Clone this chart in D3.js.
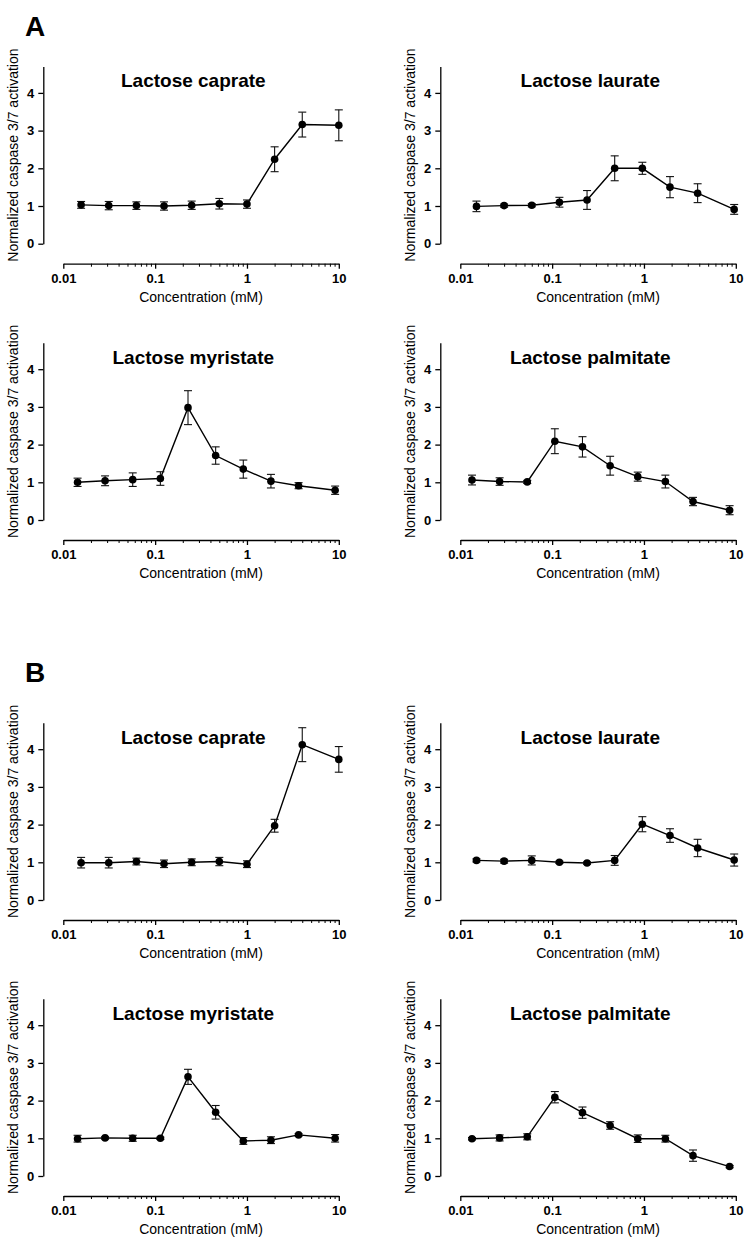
<!DOCTYPE html>
<html>
<head>
<meta charset="utf-8">
<script src="https://cdn.jsdelivr.net/npm/d3@7"></script>
<style>
  html, body { margin: 0; padding: 0; background: #fff; }
  svg { display: block; font-family: Arial, "Liberation Sans", sans-serif; }
</style>
</head>
<body>
<svg id="chart" width="752" height="1245"></svg>
<script>
// ---------- data ----------
const panelLetters = ["A", "B"];
const compounds = ["Lactose caprate", "Lactose laurate", "Lactose myristate", "Lactose palmitate"];

const concCaprate   = [0.015625, 0.03125, 0.0625, 0.125, 0.25, 0.5, 1, 2, 4, 10];
const concLaurate   = [0.015, 0.03, 0.06, 0.12, 0.24, 0.48, 0.96, 1.92, 3.84, 9.6];
const concMyristate = [0.0143, 0.0285, 0.057, 0.114, 0.228, 0.456, 0.912, 1.824, 3.648, 9.12];
const concPalmitate = [0.0134, 0.0268, 0.0536, 0.107, 0.214, 0.428, 0.856, 1.71, 3.42, 8.56];

const aCaprateMean   = [1.03, 1.01, 1.01, 1.00, 1.02, 1.06, 1.05, 2.24, 3.16, 3.14];
const aCaprateErr    = [0.09, 0.11, 0.10, 0.11, 0.11, 0.14, 0.11, 0.33, 0.33, 0.41];
const aLaurateMean   = [0.99, 1.01, 1.02, 1.10, 1.16, 2.00, 2.00, 1.50, 1.34, 0.91];
const aLaurateErr    = [0.14, 0.04, 0.04, 0.13, 0.25, 0.33, 0.16, 0.28, 0.25, 0.13];
const aMyristateMean = [1.00, 1.04, 1.07, 1.10, 2.98, 1.71, 1.35, 1.03, 0.91, 0.79];
const aMyristateErr  = [0.11, 0.13, 0.18, 0.18, 0.45, 0.23, 0.24, 0.18, 0.08, 0.11];
const aPalmitateMean = [1.06, 1.02, 1.01, 2.09, 1.94, 1.44, 1.15, 1.02, 0.49, 0.26];
const aPalmitateErr  = [0.13, 0.10, 0.04, 0.33, 0.27, 0.25, 0.12, 0.17, 0.11, 0.12];

const bCaprateMean   = [0.99, 0.99, 1.02, 0.96, 1.00, 1.02, 0.95, 1.97, 4.12, 3.73];
const bCaprateErr    = [0.14, 0.14, 0.09, 0.10, 0.09, 0.11, 0.09, 0.17, 0.45, 0.34];
const bLaurateMean   = [1.05, 1.03, 1.05, 1.00, 0.98, 1.05, 2.01, 1.71, 1.38, 1.06];
const bLaurateErr    = [0.04, 0.05, 0.12, 0.03, 0.03, 0.13, 0.20, 0.18, 0.23, 0.16];
const bMyristateMean = [0.99, 1.01, 1.00, 1.00, 2.63, 1.69, 0.93, 0.95, 1.09, 1.00];
const bMyristateErr  = [0.09, 0.03, 0.08, 0.03, 0.20, 0.18, 0.09, 0.09, 0.03, 0.10];
const bPalmitateMean = [0.99, 1.01, 1.04, 2.09, 1.68, 1.34, 0.99, 0.99, 0.54, 0.25];
const bPalmitateErr  = [0.03, 0.08, 0.08, 0.15, 0.15, 0.10, 0.10, 0.09, 0.15, 0.03];

const xMajorTicks = [0.01, 0.1, 1, 10];
const xTickLabels = ["0.01", "0.1", "1", "10"];
const yTicks = [0, 1, 2, 3, 4];
const xDomain = [0.01, 10];
const yDomain = [0, 4.7];
const xTitle = "Concentration (mM)";
const yTitle = "Normalized caspase 3/7 activation";

// ---------- layout ----------
const panels = [
  {set: 0, name: compounds[0], conc: concCaprate,   mean: aCaprateMean,   err: aCaprateErr,   col: 0, row: 0},
  {set: 0, name: compounds[1], conc: concLaurate,   mean: aLaurateMean,   err: aLaurateErr,   col: 1, row: 0},
  {set: 0, name: compounds[2], conc: concMyristate, mean: aMyristateMean, err: aMyristateErr, col: 0, row: 1},
  {set: 0, name: compounds[3], conc: concPalmitate, mean: aPalmitateMean, err: aPalmitateErr, col: 1, row: 1},
  {set: 1, name: compounds[0], conc: concCaprate,   mean: bCaprateMean,   err: bCaprateErr,   col: 0, row: 2},
  {set: 1, name: compounds[1], conc: concLaurate,   mean: bLaurateMean,   err: bLaurateErr,   col: 1, row: 2},
  {set: 1, name: compounds[2], conc: concMyristate, mean: bMyristateMean, err: bMyristateErr, col: 0, row: 3},
  {set: 1, name: compounds[3], conc: concPalmitate, mean: bPalmitateMean, err: bPalmitateErr, col: 1, row: 3},
];
const colX = [43.3, 440.3];          // y-axis x position
const rowY0 = [243.7, 520, 900, 1176]; // pixel of y = 0
const letterY = [35.5, 682];
const unitPx = 37.7;
const xStartOff = 20, xLen = 275.5;

const svg = d3.select("#chart");

// panel letters
panelLetters.forEach((L, i) => {
  svg.append("text").attr("x", 25).attr("y", letterY[i])
    .attr("font-size", 28).attr("font-weight", "bold").attr("fill", "#000").text(L);
});

// minor ticks
const minorTicks = [];
for (let d = -2; d < 1; d++) for (let m = 2; m <= 9; m++) minorTicks.push(m * Math.pow(10, d));

panels.forEach(p => {
  const ax = colX[p.col];
  const y0 = rowY0[p.row];
  const g = svg.append("g");

  const x = d3.scaleLog().domain(xDomain).range([ax + xStartOff, ax + xStartOff + xLen]);
  const y = d3.scaleLinear().domain(yDomain).range([y0, y0 - unitPx * yDomain[1]]);
  const xAxisY = y0 + 20;

  // y axis
  const yAx = g.append("g").attr("transform", `translate(${ax},0)`)
    .call(d3.axisLeft(y).tickValues(yTicks).tickFormat(d3.format("d")).tickSize(5).tickPadding(4).tickSizeOuter(0));
  yAx.select(".domain").attr("stroke", "#000").attr("stroke-width", 1.3);
  yAx.selectAll(".tick line").attr("stroke", "#000").attr("stroke-width", 1.3);
  yAx.selectAll(".tick text").attr("font-size", 13).attr("font-weight", "bold").attr("fill", "#000")
    .attr("font-family", "Arial, 'Liberation Sans', sans-serif");

  // x axis (major)
  const xAx = g.append("g").attr("transform", `translate(0,${xAxisY})`)
    .call(d3.axisBottom(x).tickValues(xMajorTicks).tickFormat((d, i) => xTickLabels[i]).tickSize(5).tickPadding(5).tickSizeOuter(0));
  xAx.select(".domain").attr("stroke", "#000").attr("stroke-width", 1.3);
  xAx.selectAll(".tick line").attr("stroke", "#000").attr("stroke-width", 1.3);
  xAx.selectAll(".tick text").attr("font-size", 13).attr("font-weight", "bold").attr("fill", "#000")
    .attr("font-family", "Arial, 'Liberation Sans', sans-serif");

  // x axis (minor)
  const xMin = g.append("g").attr("transform", `translate(0,${xAxisY})`)
    .call(d3.axisBottom(x).tickValues(minorTicks).tickFormat("").tickSize(3).tickSizeOuter(0));
  xMin.select(".domain").remove();
  xMin.selectAll(".tick line").attr("stroke", "#000").attr("stroke-width", 1);

  // titles
  g.append("text").attr("x", ax + 150).attr("y", y0 - 156.4)
    .attr("text-anchor", "middle").attr("font-size", 19).attr("font-weight", "bold").attr("fill", "#000")
    .text(p.name);
  g.append("text").attr("x", (x.range()[0] + x.range()[1]) / 2).attr("y", y0 + 58)
    .attr("text-anchor", "middle").attr("font-size", 14).attr("fill", "#000").text(xTitle);
  const yMid = (y.range()[0] + y.range()[1]) / 2;
  g.append("text").attr("transform", `translate(${ax - 30},${yMid}) rotate(-90)`)
    .attr("text-anchor", "middle").attr("dominant-baseline", "central")
    .attr("font-size", 14).attr("fill", "#000").text(yTitle);

  const pts = p.conc.map((c, i) => ({c, m: p.mean[i], e: p.err[i]}));

  // line
  g.append("path").datum(pts)
    .attr("d", d3.line().x(d => x(d.c)).y(d => y(d.m)))
    .attr("fill", "none").attr("stroke", "#000").attr("stroke-width", 1.4);

  // error bars
  const eb = g.append("g").attr("stroke", "#111").attr("stroke-width", 1.1);
  pts.forEach(d => {
    const cx = x(d.c);
    eb.append("line").attr("x1", cx).attr("x2", cx).attr("y1", y(d.m - d.e)).attr("y2", y(d.m + d.e));
    eb.append("line").attr("x1", cx - 4).attr("x2", cx + 4).attr("y1", y(d.m + d.e)).attr("y2", y(d.m + d.e));
    eb.append("line").attr("x1", cx - 4).attr("x2", cx + 4).attr("y1", y(d.m - d.e)).attr("y2", y(d.m - d.e));
  });

  // markers
  g.selectAll("circle.pt").data(pts).enter().append("circle")
    .attr("class", "pt").attr("cx", d => x(d.c)).attr("cy", d => y(d.m)).attr("r", 3.8).attr("fill", "#000");
});
</script>
</body>
</html>
